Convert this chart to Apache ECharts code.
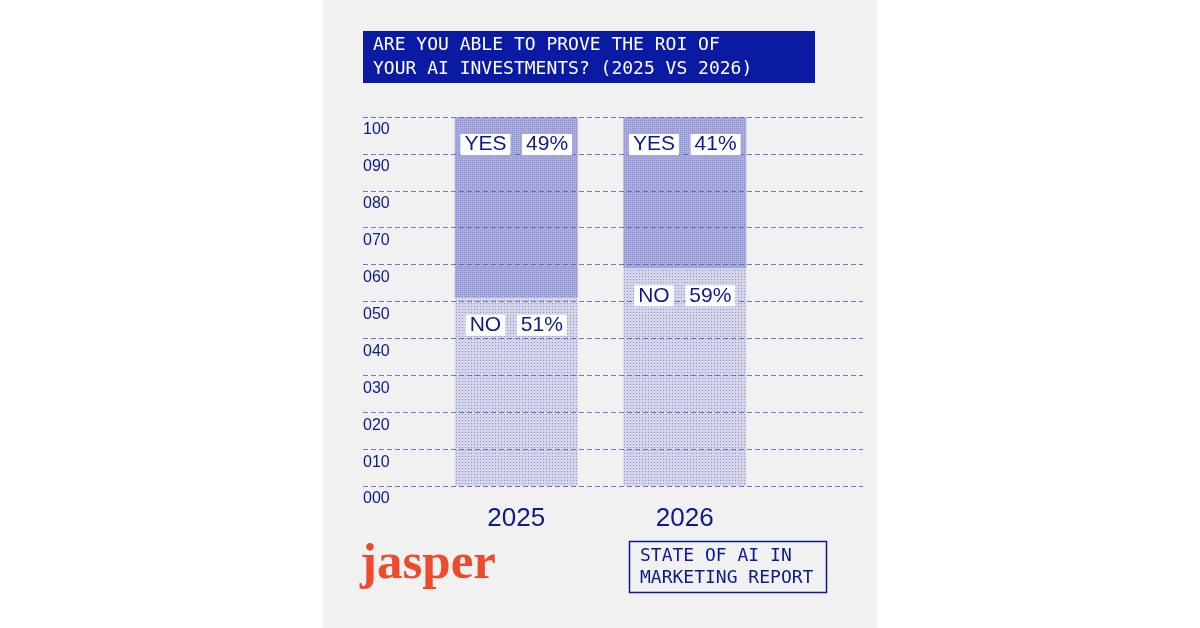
<!DOCTYPE html>
<html>
<head>
<meta charset="utf-8">
<script src="https://cdn.jsdelivr.net/npm/echarts@6/dist/echarts.min.js"></script>
<style>
html,body{margin:0;padding:0;background:#ffffff;}
#chart{width:1200px;height:628px;}
</style>
</head>
<body>
<div id="chart"></div>
<script>
const categories = ['2025', '2026'];
const yesValues = [49, 41];
const noValues = [51, 59];
const yesLabel = 'YES';
const noLabel = 'NO';
const titleLines = ['ARE YOU ABLE TO PROVE THE ROI OF', 'YOUR AI INVESTMENTS? (2025 VS 2026)'];
const footerLines = ['STATE OF AI IN', 'MARKETING REPORT'];
const brand = 'jasper';

const NAVY = '#0b1a8c';
const chart = echarts.init(document.getElementById('chart'));

function pad3(v) { return String(v).padStart(3, '0'); }

const labelRich = {
  b: {
    backgroundColor: '#ffffff',
    color: NAVY,
    fontFamily: 'Liberation Sans',
    fontSize: 21,
    lineHeight: 21,
    padding: [0, 4, 0, 4]
  }
};

function makeLabel(name) {
  return {
    show: true,
    position: 'insideTop',
    distance: 17,
    formatter: p => '{b|' + name + '}  {b|' + p.value + '%}',
    rich: labelRich,
    fontSize: 21,
    fontFamily: 'Liberation Sans'
  };
}

const option = {
  backgroundColor: '#ffffff',
  animation: false,
  graphic: [
    { type: 'rect', z: -10, shape: { x: 323, y: 0, width: 554, height: 628 }, style: { fill: '#f1f1f1' } },
    { type: 'rect', z: 10, shape: { x: 363, y: 31, width: 452, height: 52 }, style: { fill: '#0a1aa3' } },
    { type: 'text', z: 11, x: 373, y: 57, style: { text: titleLines.join('\n'), fill: '#ffffff', font: '18px "DejaVu Sans Mono"', lineHeight: 24, verticalAlign: 'middle', align: 'left' } },
    { type: 'rect', z: 10, shape: { x: 629.5, y: 541.5, width: 197, height: 51 }, style: { fill: 'none', stroke: NAVY, lineWidth: 1.5 } },
    { type: 'text', z: 11, x: 640, y: 567, style: { text: footerLines.join('\n'), fill: NAVY, font: '18px "DejaVu Sans Mono"', lineHeight: 22, verticalAlign: 'middle', align: 'left' } },
    { type: 'text', z: 11, x: 360, y: 565, style: { text: brand, fill: '#ee4a2c', font: 'bold 51px "Liberation Serif"', verticalAlign: 'middle', align: 'left' } }
  ],
  grid: [
    { left: 432, width: 337, top: 117, height: 369 },
    { left: 363, width: 500, top: 117, height: 369 }
  ],
  xAxis: [
    {
      type: 'category', gridIndex: 0, data: categories,
      axisLine: { show: false }, axisTick: { show: false },
      axisLabel: { color: NAVY, fontSize: 26, fontFamily: 'Liberation Sans', margin: 20 }
    },
    { type: 'value', gridIndex: 1, show: false, min: 0, max: 1 }
  ],
  yAxis: [
    { type: 'value', gridIndex: 0, min: 0, max: 100, interval: 10, show: false, splitLine: { show: false } },
    {
      type: 'value', gridIndex: 1, min: 0, max: 100, interval: 10, z: 5,
      axisLine: { show: false }, axisTick: { show: false },
      axisLabel: {
        inside: true, margin: 0, align: 'left', verticalAlign: 'top', padding: [5, 0, 0, 0],
        color: NAVY, fontSize: 16, fontFamily: 'Liberation Sans',
        formatter: v => pad3(v)
      },
      splitLine: {
        show: true,
        lineStyle: { color: '#5b61bd', width: 1.2, type: [5, 3], opacity: 0.85 }
      }
    }
  ],
  series: [
    {
      name: noLabel, type: 'bar', stack: 'roi', xAxisIndex: 0, yAxisIndex: 0, z: 2,
      data: noValues, barWidth: 123, barGap: '-100%',
      itemStyle: {
        color: '#d4d5e8',
        decal: { symbol: 'rect', symbolSize: 1, dashArrayX: [1, 2], dashArrayY: [1, 2], color: 'rgba(40,48,160,0.4)' }
      }
    },
    {
      name: yesLabel, type: 'bar', stack: 'roi', xAxisIndex: 0, yAxisIndex: 0, z: 2,
      data: yesValues, barWidth: 123, barGap: '-100%',
      itemStyle: {
        color: '#acaee0',
        decal: { symbol: 'rect', symbolSize: 1, dashArrayX: [1, 1], dashArrayY: [1, 1], color: 'rgba(70,76,180,0.35)' }
      }
    },
    {
      name: noLabel + ' label', type: 'bar', stack: 'lbl', xAxisIndex: 0, yAxisIndex: 0, z: 10,
      data: noValues, barWidth: 123, barGap: '-100%',
      itemStyle: { color: 'rgba(0,0,0,0)' },
      label: makeLabel(noLabel)
    },
    {
      name: yesLabel + ' label', type: 'bar', stack: 'lbl', xAxisIndex: 0, yAxisIndex: 0, z: 10,
      data: yesValues, barWidth: 123, barGap: '-100%',
      itemStyle: { color: 'rgba(0,0,0,0)' },
      label: makeLabel(yesLabel)
    }
  ]
};
chart.setOption(option);
</script>
</body>
</html>
